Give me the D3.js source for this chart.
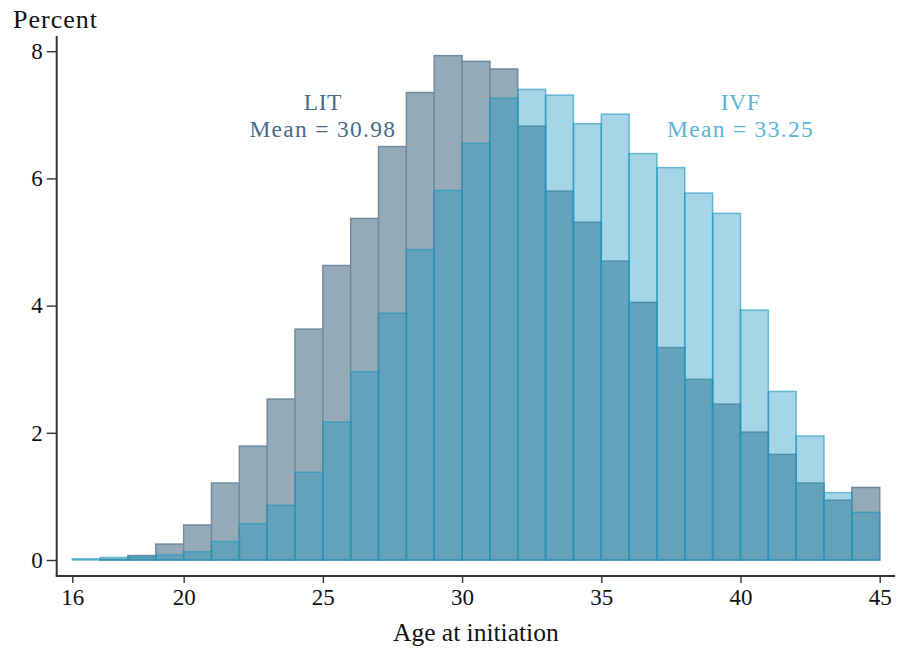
<!DOCTYPE html>
<html>
<head>
<meta charset="utf-8">
<script src="https://cdn.jsdelivr.net/npm/d3@7"></script>
<style>
  html, body { margin: 0; padding: 0; background: #ffffff; }
  svg { display: block; }
  text { font-family: "Liberation Serif", "DejaVu Serif", serif; fill: #111; }
</style>
</head>
<body>
<svg id="chart" width="898" height="652"></svg>
<script>
// ---- data ----
const binStarts = [16,17,18,19,20,21,22,23,24,25,26,27,28,29,30,31,32,33,34,35,36,37,38,39,40,41,42,43,44];
const binWidth = 1;
const litValues = [0.00,0.01,0.07,0.25,0.55,1.21,1.79,2.53,3.63,4.63,5.37,6.50,7.35,7.93,7.84,7.72,6.82,5.80,5.31,4.70,4.05,3.34,2.84,2.45,2.01,1.66,1.21,0.94,1.14];
const ivfValues = [0.02,0.04,0.05,0.08,0.13,0.29,0.57,0.86,1.38,2.17,2.96,3.88,4.88,5.81,6.55,7.26,7.40,7.31,6.86,7.01,6.39,6.17,5.77,5.45,3.93,2.65,1.95,1.06,0.75];
const xTicks = [16,20,25,30,35,40,45];
const yTicks = [0,2,4,6,8];
const seriesLabels = [
  { name: "LIT", mean: "Mean = 30.98", x: 25, y: 7.08 },
  { name: "IVF", mean: "Mean = 33.25", x: 40, y: 7.08 }
];
const yTitle = "Percent";
const xTitle = "Age at initiation";

// ---- layout ----
const svg = d3.select("#chart");
const plotLeft = 56.7, plotRight = 895, plotTop = 36, plotBottom = 576;
const x = d3.scaleLinear().domain([16, 45]).range([72.3, 879.7]);
const y = d3.scaleLinear().domain([0, 8]).range([560, 51.2]);

const litFill = "#95aab7", litStroke = "#6d8a9e";
const ivfColor = "rgb(30,150,192)";
const litText = "#476b86", ivfText = "#5bb4d6";

const litData = binStarts.map((b, i) => ({ x0: b, x1: b + binWidth, v: litValues[i] }));
const ivfData = binStarts.map((b, i) => ({ x0: b, x1: b + binWidth, v: ivfValues[i] }));

// LIT bars (underneath, opaque)
svg.append("g").selectAll("rect").data(litData).join("rect")
  .attr("x", d => x(d.x0))
  .attr("width", d => x(d.x1) - x(d.x0))
  .attr("y", d => y(d.v))
  .attr("height", d => y(0) - y(d.v))
  .attr("fill", litFill)
  .attr("stroke", litStroke)
  .attr("stroke-width", 1.5);

// IVF bars (on top, translucent)
svg.append("g").selectAll("rect").data(ivfData).join("rect")
  .attr("x", d => x(d.x0))
  .attr("width", d => x(d.x1) - x(d.x0))
  .attr("y", d => y(d.v))
  .attr("height", d => y(0) - y(d.v))
  .attr("fill", ivfColor)
  .attr("fill-opacity", 0.4)
  .attr("stroke", ivfColor)
  .attr("stroke-opacity", 0.6)
  .attr("stroke-width", 1.5);

// ---- axes ----
const axisColor = "#333";
// y axis
const yAxis = d3.axisLeft(y).tickValues(yTicks).tickSize(10).tickPadding(4).tickFormat(d3.format("d"));
const gy = svg.append("g").attr("transform", `translate(${plotLeft},0)`).call(yAxis);
gy.select(".domain").remove();
gy.selectAll(".tick line").attr("stroke", axisColor).attr("stroke-width", 1.4);
gy.selectAll(".tick text").attr("font-size", 23).attr("font-family", "Liberation Serif").attr("fill", "#111");
svg.append("line").attr("x1", plotLeft).attr("x2", plotLeft).attr("y1", plotTop).attr("y2", plotBottom)
  .attr("stroke", axisColor).attr("stroke-width", 2);

// x axis
const xAxis = d3.axisBottom(x).tickValues(xTicks).tickSize(7).tickPadding(6).tickFormat(d3.format("d"));
const gx = svg.append("g").attr("transform", `translate(0,${plotBottom})`).call(xAxis);
gx.select(".domain").remove();
gx.selectAll(".tick line").attr("stroke", axisColor).attr("stroke-width", 1.4);
gx.selectAll(".tick text").attr("font-size", 23).attr("font-family", "Liberation Serif").attr("fill", "#111");
svg.append("line").attr("x1", plotLeft - 1).attr("x2", plotRight).attr("y1", plotBottom).attr("y2", plotBottom)
  .attr("stroke", axisColor).attr("stroke-width", 2);

// titles
svg.append("text").attr("x", 13).attr("y", 28).attr("font-size", 26).attr("letter-spacing", 1).text(yTitle);
svg.append("text").attr("x", (plotLeft + plotRight) / 2).attr("y", 641).attr("text-anchor", "middle")
  .attr("font-size", 25.5).text(xTitle);

// series annotations (two separate lines)
const colors = { LIT: litText, IVF: ivfText };
seriesLabels.forEach(s => {
  svg.append("text").attr("text-anchor", "middle").attr("font-size", 23.5)
    .attr("letter-spacing", 0.6)
    .attr("x", x(s.x)).attr("y", y(s.y))
    .style("fill", colors[s.name]).text(s.name);
  svg.append("text").attr("text-anchor", "middle").attr("font-size", 23.5)
    .attr("letter-spacing", 1.3)
    .attr("x", x(s.x)).attr("y", y(s.y) + 27)
    .style("fill", colors[s.name]).text(s.mean);
});
</script>
</body>
</html>
